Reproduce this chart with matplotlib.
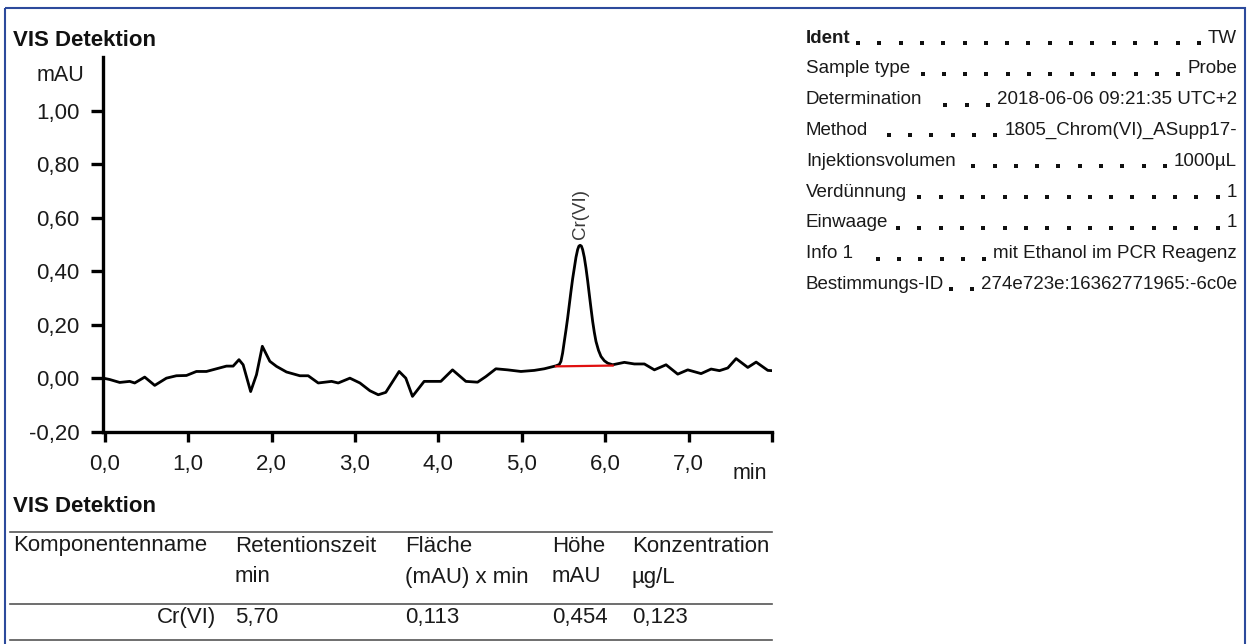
# -*- coding: utf-8 -*-

# ---------------------------------
import matplotlib
matplotlib.use("Agg")
import matplotlib.pyplot as plt
from matplotlib.patches import Rectangle
# ---------------------------------

plt.rcParams['font.family'] = ['Liberation Sans', 'DejaVu Sans']

# data ----------------------------
time_min = [0.00, 0.06, 0.18, 0.30, 0.36, 0.48, 0.60, 0.74, 0.86, 0.98,
            1.10, 1.22, 1.34, 1.46, 1.54, 1.61, 1.66, 1.75, 1.82, 1.89,
            1.98, 2.06, 2.18, 2.34, 2.44, 2.56, 2.72, 2.80, 2.94, 3.06,
            3.18, 3.28, 3.37, 3.53, 3.61, 3.69, 3.83, 3.95, 4.03, 4.17,
            4.33, 4.47, 4.57, 4.69, 4.83, 4.99, 5.15, 5.27, 5.41, 5.45,
            5.47, 5.49, 5.51, 5.53, 5.55, 5.57, 5.59, 5.61, 5.63, 5.65,
            5.67, 5.685, 5.70, 5.715, 5.73, 5.75, 5.77, 5.79, 5.81, 5.83,
            5.85, 5.87, 5.89, 5.92, 5.95, 5.99, 6.03, 6.09, 6.23, 6.35,
            6.47, 6.59, 6.73, 6.87, 6.99, 7.15, 7.27, 7.37, 7.47, 7.57,
            7.71, 7.81, 7.95, 8.00]
signal_mau = [0.000, -0.004, -0.015, -0.011, -0.017, 0.005, -0.026, 0.001, 0.010, 0.011,
              0.026, 0.026, 0.036, 0.046, 0.046, 0.070, 0.051, -0.049, 0.014, 0.120,
              0.064, 0.045, 0.024, 0.010, 0.010, -0.017, -0.011, -0.017, 0.001, -0.017,
              -0.046, -0.061, -0.052, 0.026, 0.001, -0.067, -0.011, -0.011, -0.011, 0.032,
              -0.011, -0.014, 0.007, 0.036, 0.032, 0.026, 0.030, 0.036, 0.047, 0.052,
              0.064, 0.095, 0.138, 0.180, 0.225, 0.275, 0.325, 0.372, 0.412, 0.452,
              0.481, 0.494, 0.497, 0.494, 0.481, 0.452, 0.412, 0.365, 0.313, 0.262,
              0.213, 0.172, 0.138, 0.105, 0.082, 0.066, 0.057, 0.051, 0.060, 0.054,
              0.054, 0.032, 0.051, 0.016, 0.032, 0.018, 0.035, 0.029, 0.039, 0.074,
              0.041, 0.061, 0.030, 0.029]

peak_name = "Cr(VI)"
peak_rt = 5.70
peak_top = 0.497
baseline_t = [5.41, 6.09]
baseline_y = [0.045, 0.048]

yticks = [-0.20, 0.00, 0.20, 0.40, 0.60, 0.80, 1.00]
xticks = [0, 1, 2, 3, 4, 5, 6, 7, 8]

info_labels = ["Ident", "Sample type", "Determination", "Method",
               "Injektionsvolumen", "Verdünnung", "Einwaage", "Info 1",
               "Bestimmungs-ID"]
info_values = ["TW", "Probe", "2018-06-06 09:21:35 UTC+2", "1805_Chrom(VI)_ASupp17-",
               "1000µL", "1", "1", "mit Ethanol im PCR Reagenz",
               "274e723e:16362771965:-6c0e"]

table_head1 = ["Komponentenname", "Retentionszeit", "Fläche", "Höhe", "Konzentration"]
table_head2 = ["", "min", "(mAU) x min", "mAU", "µg/L"]
table_row = ["Cr(VI)", "5,70", "0,113", "0,454", "0,123"]
# ---------------------------------

W, H = 1249, 644
fig = plt.figure(figsize=(W / 100, H / 100), dpi=100)
fig.patch.set_facecolor('white')

# overlay in pixel coords (y down)
ov = fig.add_axes([0, 0, 1, 1], zorder=0)
ov.set_xlim(0, W)
ov.set_ylim(H, 0)
ov.axis('off')
ov.patch.set_alpha(0)

ov.add_patch(Rectangle((5, 8), 1240, 650, fill=False, edgecolor='#2c4a9c', lw=1.5))

# chromatogram ---------------------
ax = fig.add_axes([103 / W, 1 - 432 / H, (772 - 103) / W, (432 - 57) / H], zorder=2)
ax.patch.set_alpha(0)
ax.plot(time_min, signal_mau, color='black', lw=2.0, solid_joinstyle='round')
ax.plot(baseline_t, baseline_y, color='#e01010', lw=1.6)
ax.text(peak_rt, peak_top + 0.025, peak_name, rotation=90, ha='center', va='bottom',
        fontsize=13.5, color='#3a3a3a')

ax.set_xlim(-0.02, 8.0)
ax.set_ylim(-0.20, 1.20)
for s in ['top', 'right']:
    ax.spines[s].set_visible(False)
for s in ['left', 'bottom']:
    ax.spines[s].set_linewidth(2.4)
ax.set_yticks(yticks)
ax.set_yticklabels([f"{v:.2f}".replace('.', ',') for v in yticks])
ax.set_xticks(xticks)
ax.set_xticklabels([f"{v:.1f}".replace('.', ',') if v < 8 else "" for v in xticks])
ax.tick_params(axis='y', length=9, width=2.4, pad=8, labelsize=16, labelcolor='#1a1a1a')
ax.tick_params(axis='x', length=7, width=2.4, pad=9, labelsize=16, labelcolor='#1a1a1a')

ov.text(13, 40, "VIS Detektion", fontsize=16, fontweight='bold', va='center', color='#111')
ov.text(37, 75, "mAU", fontsize=15.5, va='center', color='#1a1a1a')
ov.text(733, 473, "min", fontsize=15.5, va='center', color='#1a1a1a')

# info panel ----------------------
row_y0, row_dy = 38, 30.8
x_lab, x_val = 806, 1237
fig.canvas.draw()
renderer = fig.canvas.get_renderer()
for i, (lab, val) in enumerate(zip(info_labels, info_values)):
    y = row_y0 + i * row_dy
    tl = ov.text(x_lab, y, lab, fontsize=13.5, va='center', color='#1a1a1a',
                 fontweight='bold' if i == 0 else 'normal')
    tv = ov.text(x_val, y, val, fontsize=13.5, va='center', ha='right', color='#1a1a1a')
    bl = tl.get_window_extent(renderer)
    bv = tv.get_window_extent(renderer)
    xs = []
    xd = bv.x0 - 9
    while xd > bl.x1 + 4:
        xs.append(xd)
        xd -= 21.3
    ov.plot(xs, [y + 5] * len(xs), 's', color='#111', ms=3.2, mew=0)

# result table ---------------------
ov.text(13, 507, "VIS Detektion", fontsize=16, fontweight='bold', va='center', color='#111')
col_x = [13, 235, 405, 552, 632]
for yl in [532, 604, 640]:
    ov.plot([10, 772], [yl, yl], color='#555', lw=1.2)
for j in range(5):
    ov.text(col_x[j], 546, table_head1[j], fontsize=16, va='center', color='#1a1a1a')
    ov.text(col_x[j], 577, table_head2[j], fontsize=16, va='center', color='#1a1a1a')
ov.text(216, 617, table_row[0], fontsize=16, va='center', ha='right', color='#1a1a1a')
for j in range(1, 5):
    ov.text(col_x[j], 617, table_row[j], fontsize=16, va='center', color='#1a1a1a')

fig.savefig("out.png", dpi=100)
